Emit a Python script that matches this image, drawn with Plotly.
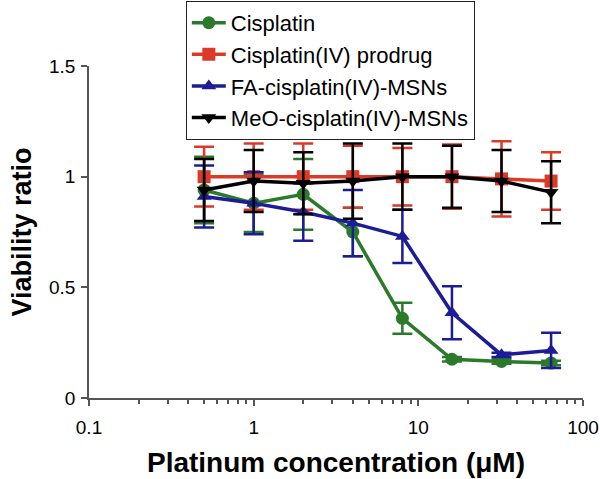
import plotly.graph_objects as go

conc = [0.5, 1, 2, 4, 8, 16, 32, 64]

cis = [0.94, 0.88, 0.92, 0.75, 0.36, 0.175, 0.165, 0.158]
cis_err = [0.15, 0.13, 0.16, 0.11, 0.07, 0.01, 0.01, 0.01]

prodrug = [1.0, 1.0, 1.0, 1.0, 1.0, 1.0, 0.99, 0.98]
prodrug_err = [0.135, 0.15, 0.15, 0.14, 0.13, 0.145, 0.17, 0.13]

fa = [0.91, 0.88, 0.84, 0.79, 0.73, 0.385, 0.195, 0.215]
fa_err = [0.14, 0.14, 0.13, 0.15, 0.12, 0.12, 0.01, 0.08]

meo = [0.94, 0.98, 0.97, 0.98, 1.0, 1.0, 0.98, 0.93]
meo_err = [0.14, 0.14, 0.14, 0.17, 0.15, 0.14, 0.14, 0.14]

series = [
    ("Cisplatin", cis, cis_err, "#2b7a2b", "circle"),
    ("Cisplatin(IV) prodrug", prodrug, prodrug_err, "#dc3a28", "square"),
    ("FA-cisplatin(IV)-MSNs", fa, fa_err, "#1c1c96", "triangle-up"),
    ("MeO-cisplatin(IV)-MSNs", meo, meo_err, "#000000", "triangle-down"),
]

fig = go.Figure()
for name, y, err, color, sym in series:
    fig.add_trace(go.Scatter(
        x=conc, y=y, name=name, mode="lines+markers",
        legendgroup=name,
        line=dict(color=color, width=3.5),
        marker=dict(color=color, symbol=sym, size=13),
        error_y=dict(type="data", array=err, color=color, thickness=2.5, width=10),
        cliponaxis=False,
    ))

fig.update_layout(
    width=600, height=479,
    margin=dict(l=89, r=17, t=66, b=81, autoexpand=False),
    plot_bgcolor="white", paper_bgcolor="white",
    font=dict(family="Liberation Sans, Arial, sans-serif", size=19, color="black"),
    showlegend=True,
    legend=dict(
        x=0.196, y=1.196, xanchor="left", yanchor="top",
        bordercolor="#222", borderwidth=1, bgcolor="white",
        font=dict(size=22), itemwidth=34, tracegroupgap=0,
    ),
)

fig.update_xaxes(
    type="log", range=[-1, 2],
    tickvals=[0.1, 1, 10, 100], ticktext=["0.1", "1", "10", "100"],
    ticks="outside", ticklen=6, tickwidth=1.5, tickcolor="#555",
    minor=dict(ticks="outside", ticklen=4, tickcolor="#555", dtick="D1"),
    showline=True, linecolor="#555", linewidth=1.5,
    showgrid=False, zeroline=False, ticklabelstandoff=5,
    title=dict(text="<b>Platinum concentration (μM)</b>", font=dict(size=28), standoff=16),
)
fig.update_yaxes(
    range=[0, 1.5], tickvals=[0, 0.5, 1, 1.5], ticktext=["0", "0.5", "1", "1.5"],
    ticks="outside", ticklen=6, tickwidth=1.5, tickcolor="#555",
    showline=True, linecolor="#555", linewidth=1.5,
    showgrid=False, zeroline=False, ticklabelstandoff=2,
    title=dict(text="<b>Viability ratio</b>", font=dict(size=27), standoff=10),
)

# page body has a default margin; drop it so the figure sits at the top-left corner
fig.write_html("out.html", config={"displayModeBar": False},
               post_script="document.body.style.margin='0';")
